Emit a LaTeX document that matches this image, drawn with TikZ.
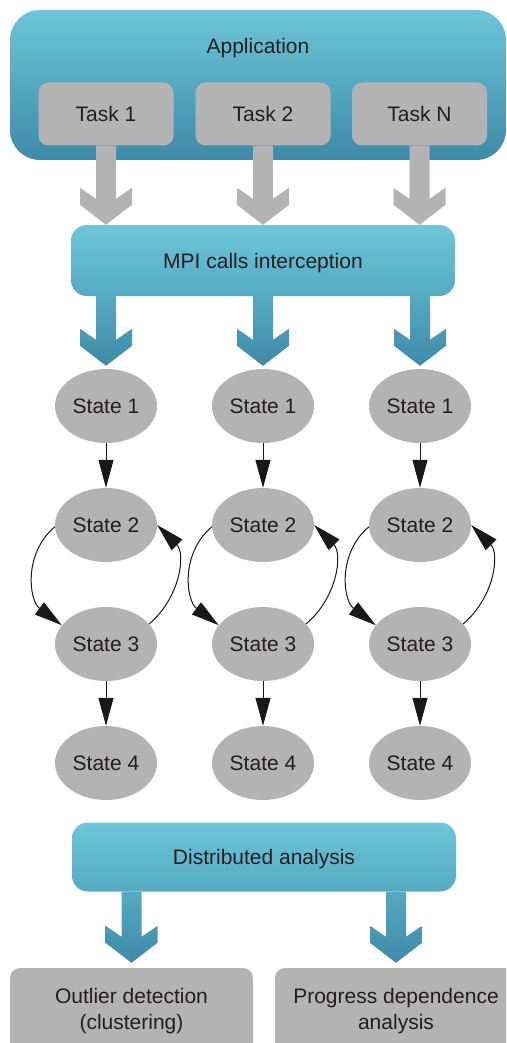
\documentclass[tikz,border=0pt]{standalone}
\usepackage{fontspec}
\setmainfont{Liberation Sans}
\usetikzlibrary{arrows.meta,shapes.geometric,calc}
\definecolor{bluetop}{HTML}{6DC6D9}
\definecolor{bluebot}{HTML}{3E8AA8}
\definecolor{bluemid}{HTML}{56AAC2}
\definecolor{boxgray}{HTML}{B3B3B3}
\definecolor{txt}{HTML}{231F20}
\newcommand\fatarrow[3]{%
  \path[#1] let \p1=#2, \p2=#3 in
   (\x1-10pt,\y1) -- (\x1-10pt,\y2+26pt) -- (\x1-26pt,\y2+37pt) -- (\x1-26pt,\y2+20pt)
   -- (\x1,\y2) -- (\x1+26pt,\y2+20pt) -- (\x1+26pt,\y2+37pt) -- (\x1+10pt,\y2+26pt)
   -- (\x1+10pt,\y1) -- cycle;}
\begin{document}
\begin{tikzpicture}[x=1pt,y=-1pt,
  font=\fontsize{21}{25.5}\selectfont, text=txt,
  oneline/.style={text height=15pt,text depth=0pt},
  appbox/.style={draw=none,top color=bluetop,bottom color=bluebot,rounded corners=30pt,inner sep=0pt},
  bluebox/.style={oneline,draw=none,top color=bluetop,bottom color=bluemid,rounded corners=16pt,inner sep=0pt},
  graybox/.style={draw=none,fill=boxgray,rounded corners=10pt,inner sep=0pt},
  state/.style={oneline,ellipse,draw=none,fill=boxgray,minimum width=102pt,minimum height=74pt,inner sep=0pt},
  grayarrow/.style={fill=boxgray},
  bluearrow/.style={top color=bluemid,bottom color=bluebot},
  statearrow/.style={draw=black!90,line width=1pt,-{Triangle[length=28pt,width=15pt]}}]
\useasboundingbox (0,0) rectangle (506,1043);
\clip (0,0) rectangle (506,1043);
% Application
\node[appbox,minimum width=496pt,minimum height=150pt] (app) at (258,85) {};
\node[oneline] (apptitle) at (258,46) {Application};
\node[graybox,oneline,minimum width=135pt,minimum height=63pt] (t1) at (106,114) {Task 1};
\node[graybox,oneline,minimum width=135pt,minimum height=63pt] (t2) at (263,114) {Task 2};
\node[graybox,oneline,minimum width=135pt,minimum height=63pt] (t3) at (419.5,114) {Task N};
% MPI
\node[bluebox,minimum width=384pt,minimum height=71pt] (mpi) at (263,260.5) {MPI calls interception};
\fatarrow{grayarrow}{(t1.south)}{(t1.south |- mpi.north)}
\fatarrow{grayarrow}{(t2.south)}{(t2.south |- mpi.north)}
\fatarrow{grayarrow}{(t3.south)}{(t3.south |- mpi.north)}
% states
\foreach \c/\x in {1/106,2/263,3/420}{
  \node[state] (s\c1) at (\x,406) {State 1};
  \node[state] (s\c2) at (\x,525) {State 2};
  \node[state] (s\c3) at (\x,644) {State 3};
  \node[state] (s\c4) at (\x,763) {State 4};
  \fatarrow{bluearrow}{(s\c1.north |- mpi.south)}{([yshift=3pt]s\c1.north)}
  \draw[statearrow] (s\c1) -- (s\c2);
  \draw[statearrow] (s\c3) -- (s\c4);
  \draw[statearrow] (s\c2.182) to[out=220,in=143,looseness=1.07] (s\c3.157);
  \draw[statearrow] (s\c3.25) to[out=40,in=-45,looseness=1.05] (s\c2.0);
}
% distributed analysis
\node[bluebox,minimum width=384pt,minimum height=69pt] (dist) at (264,857) {Distributed analysis};
\node[graybox,minimum width=243pt,minimum height=86pt,align=center] (out) at (131.5,1011) {Outlier detection\\(clustering)};
\node[graybox,minimum width=242pt,minimum height=86pt,align=center] (prog) at (396,1011) {Progress dependence\\analysis};
\fatarrow{bluearrow}{(out.north |- dist.south)}{([yshift=5pt]out.north)}
\fatarrow{bluearrow}{(prog.north |- dist.south)}{([yshift=5pt]prog.north)}
\end{tikzpicture}
\end{document}
